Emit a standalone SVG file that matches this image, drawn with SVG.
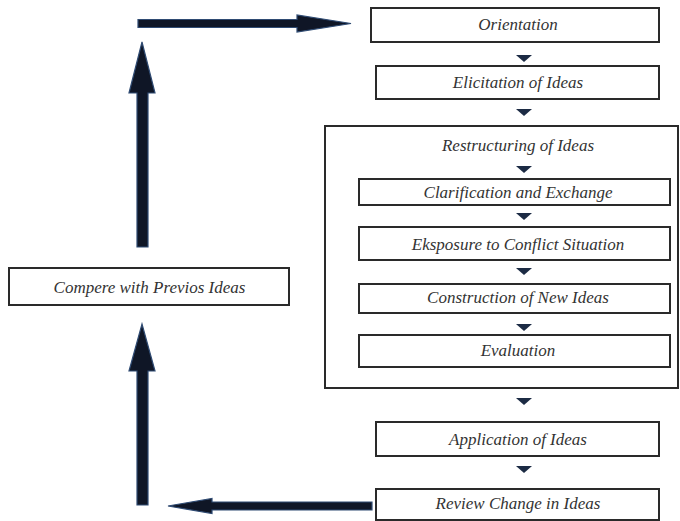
<svg xmlns="http://www.w3.org/2000/svg" width="680" height="521" viewBox="0 0 680 521">
<style>
.box{fill:#fff;stroke:#2a2a2a;stroke-width:2}
.lbl{font-family:"Liberation Serif","Times New Roman",serif;font-style:italic;font-size:17px;fill:#333;text-anchor:middle}
.tri{fill:#1c2b44}
.arr{fill:#0f1626;stroke:#2f4b73;stroke-width:1.2;stroke-linejoin:miter}
</style>
<rect width="680" height="521" fill="#fff"/>
<g id="restructuring"><rect class="box" x="325" y="126" width="353" height="262"/><text class="lbl" x="518" y="151">Restructuring of Ideas</text></g>
<g id="orientation"><rect class="box" x="371" y="8" width="288" height="34"/><text class="lbl" x="518" y="30">Orientation</text></g>
<g id="elicitation"><rect class="box" x="376" y="66" width="283" height="33"/><text class="lbl" x="518" y="88">Elicitation of Ideas</text></g>
<g id="clarification"><rect class="box" x="359" y="179" width="311" height="26"/><text class="lbl" x="518" y="197.5">Clarification and Exchange</text></g>
<g id="eksposure"><rect class="box" x="359" y="227" width="311" height="33"/><text class="lbl" x="518" y="249.5">Eksposure to Conflict Situation</text></g>
<g id="construction"><rect class="box" x="359" y="284" width="311" height="29"/><text class="lbl" x="518" y="303">Construction of New Ideas</text></g>
<g id="evaluation"><rect class="box" x="359" y="335" width="311" height="32"/><text class="lbl" x="518" y="356">Evaluation</text></g>
<g id="application"><rect class="box" x="376" y="422" width="283" height="34"/><text class="lbl" x="518" y="444.5">Application of Ideas</text></g>
<g id="review"><rect class="box" x="376" y="489" width="283" height="31"/><text class="lbl" x="518" y="509">Review Change in Ideas</text></g>
<g id="compere"><rect class="box" x="9" y="268" width="280" height="37"/><text class="lbl" x="149.5" y="292.5">Compere with Previos Ideas</text></g>
<g id="connectors">
  <polygon class="arr" points="138,19.5 297,19.5 297,15 351,23.5 297,32 297,27.5 138,27.5"/>
  <polygon class="arr" points="137,247 137,93 129,93 142,42 155,93 148,93 148,247"/>
  <polygon class="arr" points="137,505 137,371 129,371 142,324 155,371 148,371 148,505"/>
  <polygon class="arr" points="372,502 212,502 212,498.5 168,506 212,513.5 212,510 372,510"/>
  <polygon class="tri" points="516,55 532,55 524,62"/>
  <polygon class="tri" points="516,109 532,109 524,116"/>
  <polygon class="tri" points="516,166 532,166 524,173"/>
  <polygon class="tri" points="516,213 532,213 524,220"/>
  <polygon class="tri" points="516,268 532,268 524,275"/>
  <polygon class="tri" points="516,324 532,324 524,331"/>
  <polygon class="tri" points="516,398 532,398 524,405"/>
  <polygon class="tri" points="516,466 532,466 524,473"/>
</g>
</svg>
